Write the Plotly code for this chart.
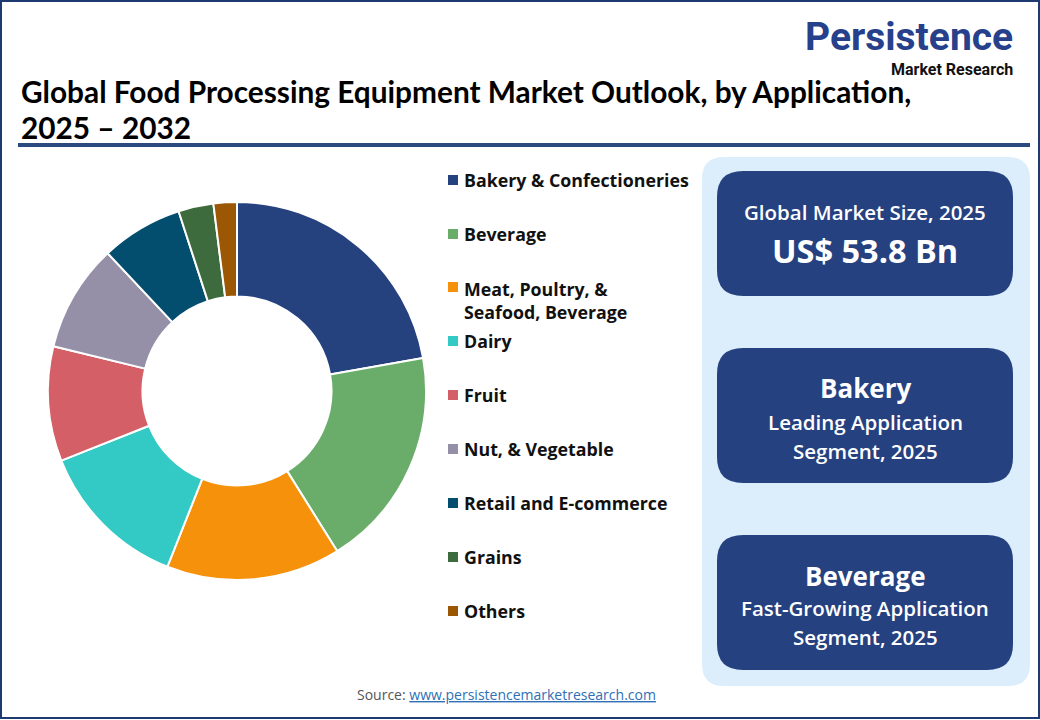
import plotly.graph_objects as go

W, H = 1040, 720

categories = ["Bakery & Confectioneries", "Beverage", "Meat, Poultry, &<br>Seafood, Beverage",
              "Dairy", "Fruit", "Nut, & Vegetable", "Retail and E-commerce", "Grains", "Others"]
shares = [22.2, 18.9, 14.9, 13.0, 9.8, 9.2, 7.0, 3.0, 2.0]
colors = ["#25427f", "#6aad6a", "#f5910b", "#33c9c4", "#d45f66", "#9590a8", "#034e6e", "#3e6b3d", "#9b5703"]

title_lines = ["Global Food Processing Equipment Market Outlook, by Application,", "2025 \u2013 2032"]
market_size_label = "Global Market Size, 2025"
market_size_value = "US$ 53.8 Bn"
leading_name = "Bakery"
leading_sub = ["Leading Application", "Segment, 2025"]
fast_name = "Beverage"
fast_sub = ["Fast-Growing Application", "Segment, 2025"]


def px(x):
    return x / W


def py(y):
    return 1 - y / H


def rounded_rect(x0, y0, x1, y1, r):
    rx = r / W
    ry = r / H
    X0, X1 = px(x0), px(x1)
    Y0, Y1 = py(y0), py(y1)
    return (f"M {X0+rx},{Y0} L {X1-rx},{Y0} Q {X1},{Y0} {X1},{Y0-ry} "
            f"L {X1},{Y1+ry} Q {X1},{Y1} {X1-rx},{Y1} L {X0+rx},{Y1} "
            f"Q {X0},{Y1} {X0},{Y1+ry} L {X0},{Y0-ry} Q {X0},{Y0} {X0+rx},{Y0} Z")


fig = go.Figure()
fig.add_trace(go.Pie(
    labels=categories, values=shares, hole=0.5, sort=False, direction="clockwise", rotation=0,
    marker=dict(colors=colors, line=dict(color="white", width=2)),
    textinfo="none", showlegend=False, hoverinfo="label+percent",
    domain=dict(x=[px(48), px(426)], y=[py(580), py(202)]),
))

shapes = []
annotations = []
FONT = "Open Sans"

# outer frame
shapes.append(dict(type="rect", xref="paper", yref="paper", x0=px(1), x1=px(1039), y0=py(718), y1=py(1),
                   line=dict(color="#1f3a70", width=2), fillcolor="rgba(0,0,0,0)"))
# header rule
shapes.append(dict(type="line", xref="paper", yref="paper", x0=px(18), x1=px(1030), y0=py(145), y1=py(145),
                   line=dict(color="#2b4a80", width=4)))

# title
for t, yy in zip(title_lines, [91, 127]):
    annotations.append(dict(text=t, x=px(19), y=py(yy), xref="paper", yref="paper",
                            xanchor="left", yanchor="middle", showarrow=False,
                            font=dict(family="Lato", size=29.8, color="black", weight="bold")))

# logo
annotations.append(dict(text="Persistence", x=px(1014), y=py(37), xref="paper", yref="paper",
                        xanchor="right", yanchor="middle", showarrow=False, borderpad=0,
                        font=dict(family="Roboto", size=39, color="#27408b", weight="bold")))
annotations.append(dict(text="Market Research", x=px(1014), y=py(70), xref="paper", yref="paper",
                        xanchor="right", yanchor="middle", showarrow=False, borderpad=0,
                        font=dict(family="Roboto", size=16, color="#111111", weight="bold")))

# legend (manual)
leg_y = [180, 234, 300, 341, 395, 449, 503, 557, 611]
for cat, col, yy in zip(categories, colors, leg_y):
    sq_y = 287 if "<br>" in cat else yy
    shapes.append(dict(type="rect", xref="paper", yref="paper", x0=px(448), x1=px(458),
                       y0=py(sq_y + 5), y1=py(sq_y - 5), fillcolor=col, line=dict(width=0)))
    annotations.append(dict(text=cat, x=px(462), y=py(yy), xref="paper", yref="paper",
                            xanchor="left", yanchor="middle", align="left", showarrow=False,
                            font=dict(family=FONT, size=17.8, color="#111111", weight="bold")))

# right panel
shapes.append(dict(type="path", xref="paper", yref="paper", path=rounded_rect(702, 157, 1030, 686, 22),
                   fillcolor="#dceefc", line=dict(width=0)))
for (y0, y1) in [(171, 296), (348, 483), (535, 670)]:
    shapes.append(dict(type="path", xref="paper", yref="paper", path=rounded_rect(717, y0, 1013, y1, 26),
                       fillcolor="#25417f", line=dict(width=0)))

cx = px(865)


def box_text(t, y, size, weight="bold"):
    annotations.append(dict(text=t, x=cx, y=py(y), xref="paper", yref="paper", xanchor="center",
                            yanchor="middle", showarrow=False,
                            font=dict(family=FONT, size=size, color="white", weight=weight)))


box_text(market_size_label, 212, 20.5, 600)
box_text(market_size_value, 250, 32.5)
box_text(leading_name, 388, 26)
box_text(leading_sub[0], 422, 20.5, 600)
box_text(leading_sub[1], 451, 20.5, 600)
box_text(fast_name, 576, 26)
box_text(fast_sub[0], 608, 20.5, 600)
box_text(fast_sub[1], 637, 20.5, 600)

# source
annotations.append(dict(text="Source: <span style='color:#2e6fb5'><u>www.persistencemarketresearch.com</u></span>",
                        x=px(506), y=py(694), xref="paper", yref="paper", xanchor="center", yanchor="middle",
                        showarrow=False, font=dict(family=FONT, size=14, color="#555555")))

fig.update_layout(width=W, height=H, margin=dict(l=0, r=0, t=0, b=0), paper_bgcolor="white",
                  plot_bgcolor="white", shapes=shapes, annotations=annotations, showlegend=False)

fig.write_html("out.html", config={"displayModeBar": False},
               post_script="document.body.style.margin='0';document.body.style.overflow='hidden';")
